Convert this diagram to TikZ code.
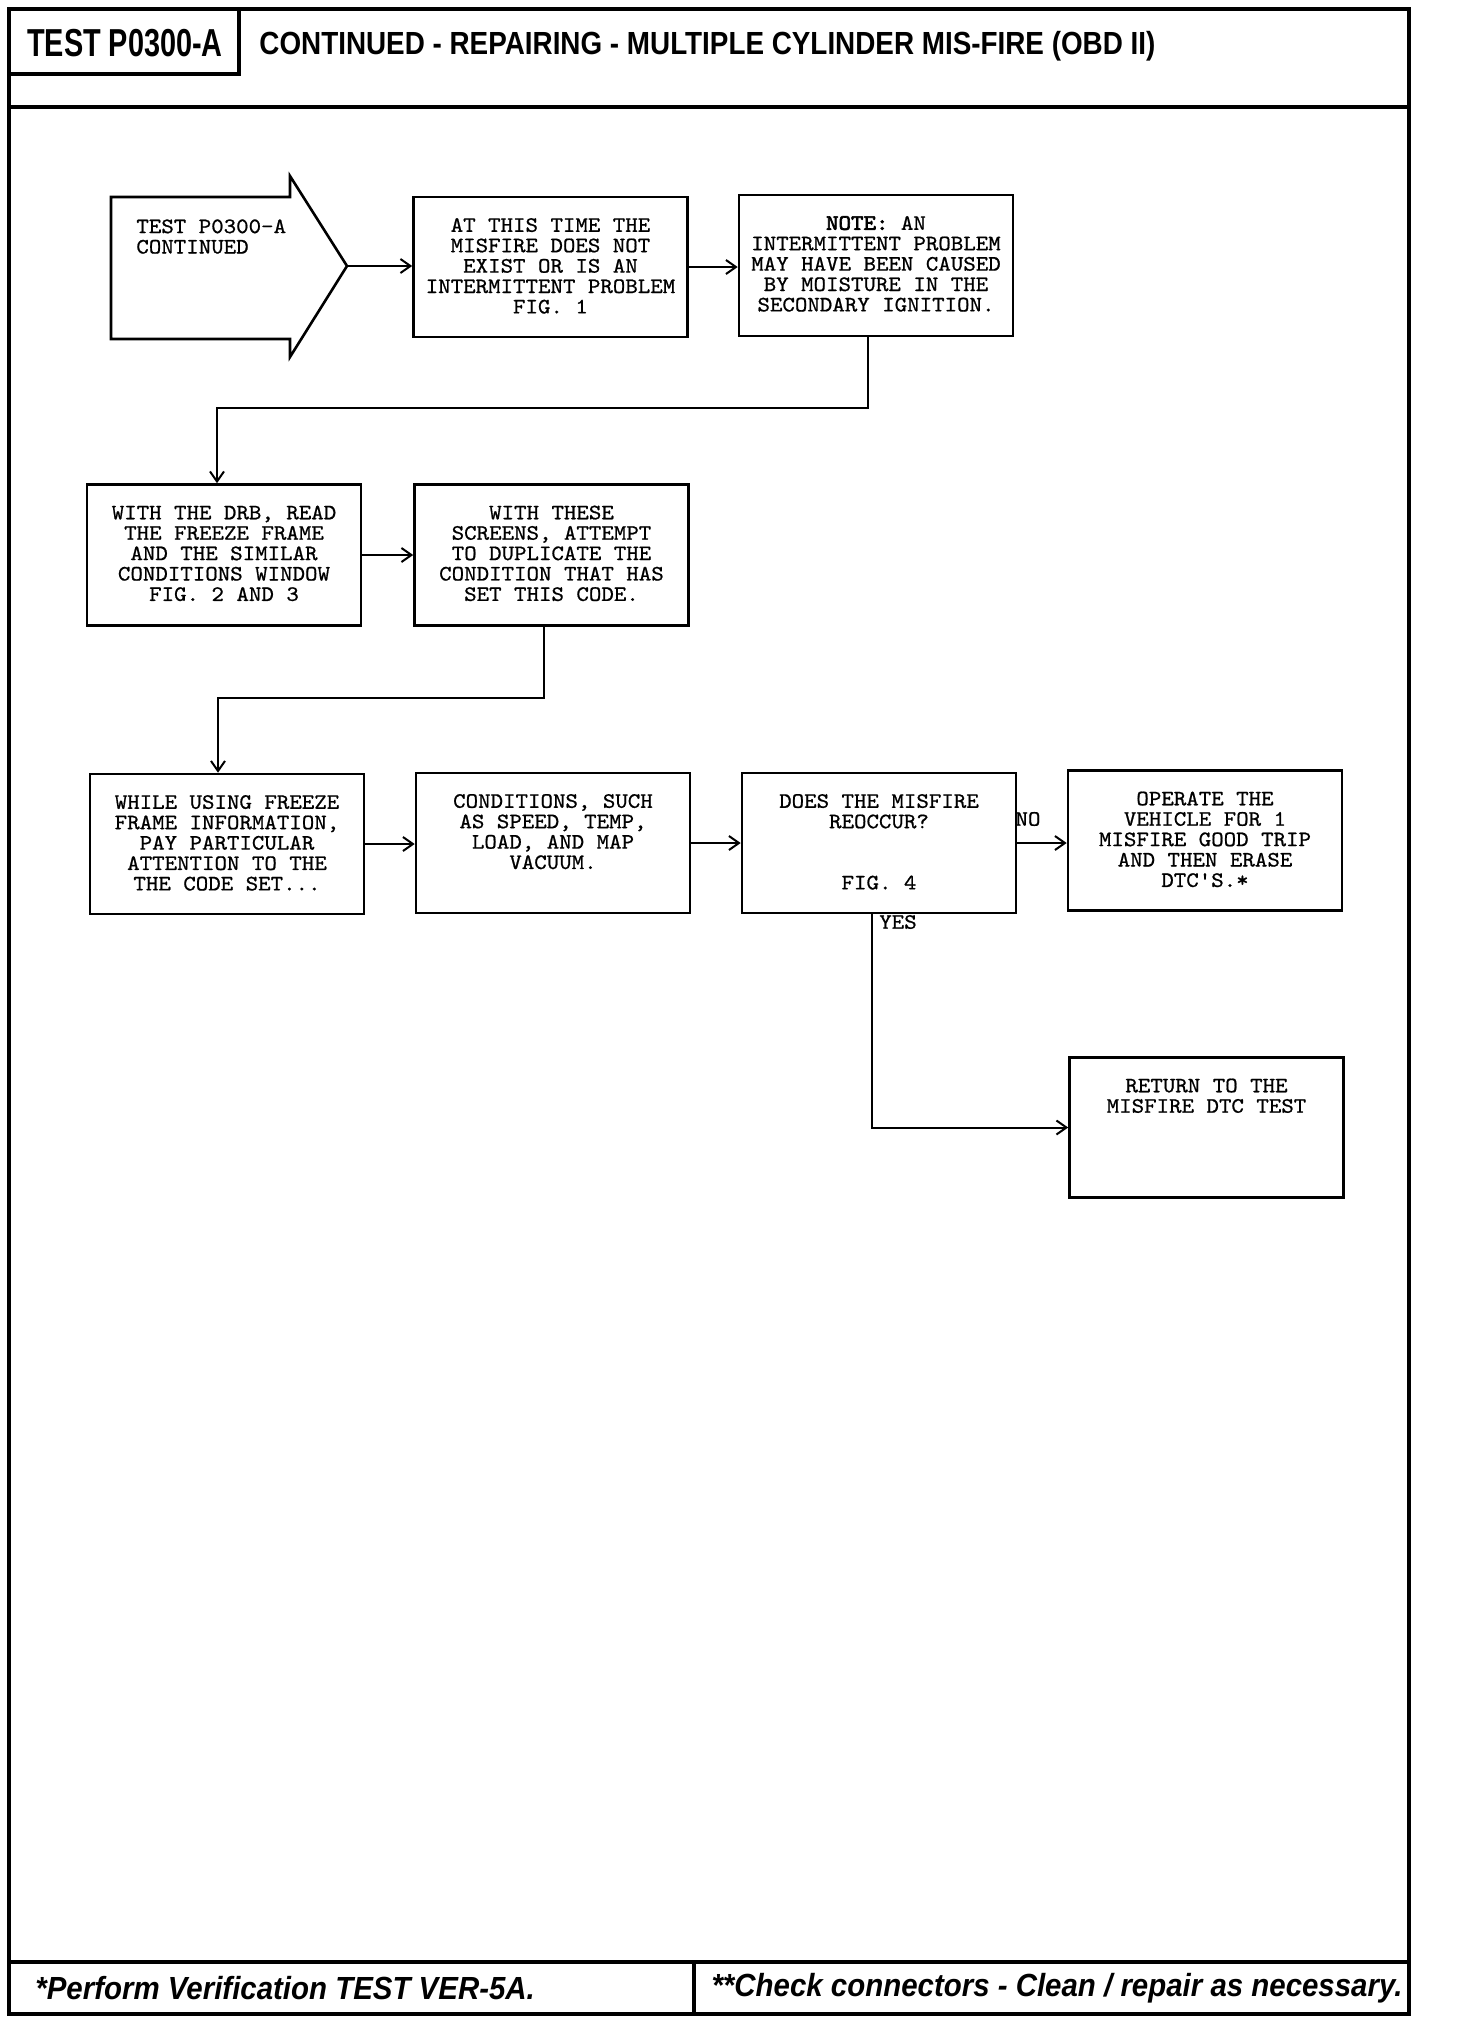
\documentclass[tikz,border=0pt]{standalone}
\usepackage{fontspec}
\setmainfont{Liberation Serif}
\newfontfamily\courfont[FakeStretch=1.08,FakeBold=0.8]{Latin Modern Mono}
\newfontfamily\courbold[FakeStretch=1.08,FakeBold=3]{Latin Modern Mono}
\newfontfamily\hdrA[FakeStretch=0.74]{Liberation Sans}
\newfontfamily\hdrB[FakeStretch=0.87]{Liberation Sans}
\newfontfamily\ftrfont[FakeStretch=0.92]{Liberation Sans}
\usetikzlibrary{arrows.meta}
\begin{document}
\begin{tikzpicture}[x=0.5pt,y=-0.5pt,
  frame/.style={draw,line width=2pt},
  box/.style={draw,line width=1.3pt,minimum width=137pt,minimum height=70pt,inner sep=0pt},
  txt/.style={font=\courfont\fontsize{11}{10.2}\selectfont,align=center,inner sep=0pt,anchor=north},
  lbl/.style={font=\courfont\fontsize{11}{10.2}\selectfont,inner sep=0pt},
  arr/.style={line width=1pt,-{Straight Barb[length=5pt,width=7pt,line width=1pt]}}]
\useasboundingbox (0,0) rectangle (1456,2034);
% frame
\draw[frame] (9,9) rectangle (1409,1962);
\draw[frame] (9,107) -- (1409,107);
\draw[frame] (9,9) rectangle (239,74);
\node[font=\hdrA\bfseries\fontsize{19.5}{20}\selectfont,inner sep=0pt] (hA) at (125,43) {TEST P0300-A};
\node[font=\hdrB\bfseries\fontsize{16}{17}\selectfont,inner sep=0pt,anchor=west] (hB) at (259,46) {CONTINUED - REPAIRING - MULTIPLE CYLINDER MIS-FIRE (OBD II)};
% footer
\draw[frame] (9,1962) rectangle (1409,2014);
\draw[frame] (694,1962) -- (694,2014);
\node[font=\ftrfont\bfseries\itshape\fontsize{16}{17}\selectfont,inner sep=0pt,anchor=west] (fA) at (35,1988) {*Perform Verification TEST VER-5A.};
\node[font=\ftrfont\bfseries\itshape\fontsize{16}{17}\selectfont,inner sep=0pt,anchor=east] (fB) at (1403,1988) {**Check connectors - Clean / repair as necessary.};
% start arrow shape
\draw[line width=1.3pt] (111,197) -- (290,197) -- (290,176) -- (347,266) -- (290,357) -- (290,339) -- (111,339) -- cycle;
\coordinate (a1) at (347,266);
\node[txt,align=left,anchor=north west] (a1t) at (136,219) {TEST P0300-A\\CONTINUED};
% boxes
\node[box] (b2) at (550.5,267) {};
\node[txt] (b2t) at ([yshift=-11pt]b2.north) {AT THIS TIME THE\\MISFIRE DOES NOT\\EXIST OR IS AN\\INTERMITTENT PROBLEM\\FIG. 1};
\node[box,minimum height=70.5pt] (b3) at (876,265.5) {};
\node[txt] (b3t) at ([yshift=-11pt]b3.north) {{\courbold NOTE:} AN\\INTERMITTENT PROBLEM\\MAY HAVE BEEN CAUSED\\BY MOISTURE IN THE\\SECONDARY IGNITION.};
\node[box,minimum height=70.5pt] (b4) at (224,555) {};
\node[txt] (b4t) at ([yshift=-11pt]b4.north) {WITH THE DRB, READ\\THE FREEZE FRAME\\AND THE SIMILAR\\CONDITIONS WINDOW\\FIG. 2 AND 3};
\node[box,minimum height=70.5pt] (b5) at (551.5,555) {};
\node[txt] (b5t) at ([yshift=-11pt]b5.north) {WITH THESE\\SCREENS, ATTEMPT\\TO DUPLICATE THE\\CONDITION THAT HAS\\SET THIS CODE.};
\node[box] (b6) at (227,844) {};
\node[txt] (b6t) at ([yshift=-11pt]b6.north) {WHILE USING FREEZE\\FRAME INFORMATION,\\PAY PARTICULAR\\ATTENTION TO THE\\THE CODE SET...};
\node[box] (b7) at (553,843) {};
\node[txt] (b7t) at ([yshift=-11pt]b7.north) {CONDITIONS, SUCH\\AS SPEED, TEMP,\\LOAD, AND MAP\\VACUUM.};
\node[box] (b8) at (879,843) {};
\node[txt] (b8t) at ([yshift=-11pt]b8.north) {DOES THE MISFIRE\\REOCCUR?\\[20.4pt]FIG. 4};
\node[box] (b9) at (1205,840.5) {};
\node[txt] (b9t) at ([yshift=-11pt]b9.north) {OPERATE THE\\VEHICLE FOR 1\\MISFIRE GOOD TRIP\\AND THEN ERASE\\DTC'S.*};
\node[box] (b10) at (1206.5,1127.5) {};
\node[txt] (b10t) at ([yshift=-11pt]b10.north) {RETURN TO THE\\MISFIRE DTC TEST};
% labels
\node[lbl] (lno) at (1028,819) {NO};
\node[lbl] (lyes) at (898,922) {YES};
% connectors
\draw[arr] (a1) -- (a1 -| b2.west);
\draw[arr] (b2.east) -- (b2.east -| b3.west);
\draw[arr] ([xshift=-4pt]b3.south) -- ++(0,71) -| ([xshift=-3.5pt]b4.north);
\draw[arr] (b4.east) -- (b4.east -| b5.west);
\draw[arr] ([xshift=-4pt]b5.south) -- ++(0,71) -| ([xshift=-4.5pt]b6.north);
\draw[arr] (b6.east) -- (b6.east -| b7.west);
\draw[arr] (b7.east) -- (b7.east -| b8.west);
\draw[arr] (b8.east) -- (b8.east -| b9.west);
\draw[arr] ([xshift=-3.5pt]b8.south) |- (b10.west);
\end{tikzpicture}
\end{document}
